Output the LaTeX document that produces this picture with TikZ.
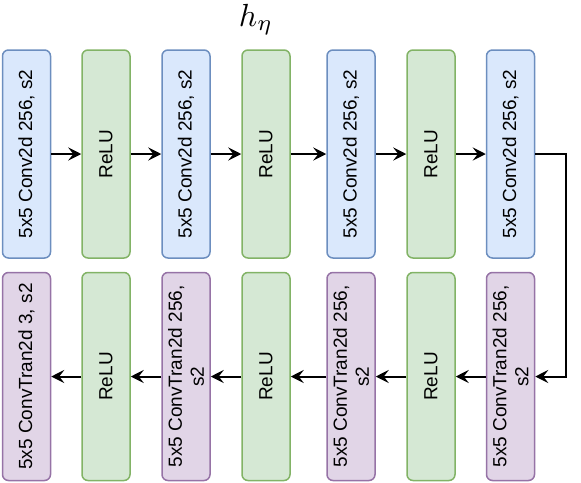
\documentclass[tikz,border=0pt]{standalone}
\usepackage{fontspec}
\setmainfont{Liberation Sans}
\usetikzlibrary{arrows.meta}
\definecolor{bfill}{HTML}{DAE8FC}\definecolor{bline}{HTML}{6C8EBF}
\definecolor{gfill}{HTML}{D5E8D4}\definecolor{gline}{HTML}{82B366}
\definecolor{pfill}{HTML}{E1D5E7}\definecolor{pline}{HTML}{9673A6}
\begin{document}
\begin{tikzpicture}[x=1pt,y=-1pt,
  blk/.style={draw, rounded corners=6pt, line width=1.5pt, minimum width=208pt, minimum height=48pt,
    rotate=90, font=\fontsize{19}{22}\selectfont, align=center, inner sep=0pt},
  conv/.style={blk, fill=bfill, draw=bline},
  relu/.style={blk, fill=gfill, draw=gline},
  tran/.style={blk, fill=pfill, draw=pline},
  arr/.style={line width=2pt, -{Stealth[length=13pt,width=13pt,inset=5pt]}}]
\useasboundingbox (0,0) rectangle (581,482);
\node[anchor=base,inner sep=0pt,scale=3.2] (title) at (256,26) {$h_\eta$};
% top row
\node[conv] (c1) at (26.5,154) {5x5 Conv2d 256, s2};
\node[relu] (r1) at (106,154) {ReLU};
\node[conv] (c2) at (186,154) {5x5 Conv2d 256, s2};
\node[relu] (r2) at (266,154) {ReLU};
\node[conv] (c3) at (351,154) {5x5 Conv2d 256, s2};
\node[relu] (r3) at (431,154) {ReLU};
\node[conv] (c4) at (510.5,154) {5x5 Conv2d 256, s2};
% bottom row
\node[tran] (b1) at (26.5,376.5) {5x5 ConvTran2d 3, s2};
\node[relu] (b2) at (106,376.5) {ReLU};
\node[tran] (b3) at (186,376.5) {5x5 ConvTran2d 256,\\ s2};
\node[relu] (b4) at (266,376.5) {ReLU};
\node[tran] (b5) at (351,376.5) {5x5 ConvTran2d 256,\\ s2};
\node[relu] (b6) at (431,376.5) {ReLU};
\node[tran] (b7) at (510.5,376.5) {5x5 ConvTran2d 256,\\ s2};
\coordinate (k) at (566,265);
\draw[arr] (c1) -- (r1);
\draw[arr] (r1) -- (c2);
\draw[arr] (c2) -- (r2);
\draw[arr] (r2) -- (c3);
\draw[arr] (c3) -- (r3);
\draw[arr] (r3) -- (c4);
\draw[arr] (c4.south) -| (k) |- (b7.south);
\draw[arr] (b7) -- (b6);
\draw[arr] (b6) -- (b5);
\draw[arr] (b5) -- (b4);
\draw[arr] (b4) -- (b3);
\draw[arr] (b3) -- (b2);
\draw[arr] (b2) -- (b1);
\end{tikzpicture}
\end{document}
